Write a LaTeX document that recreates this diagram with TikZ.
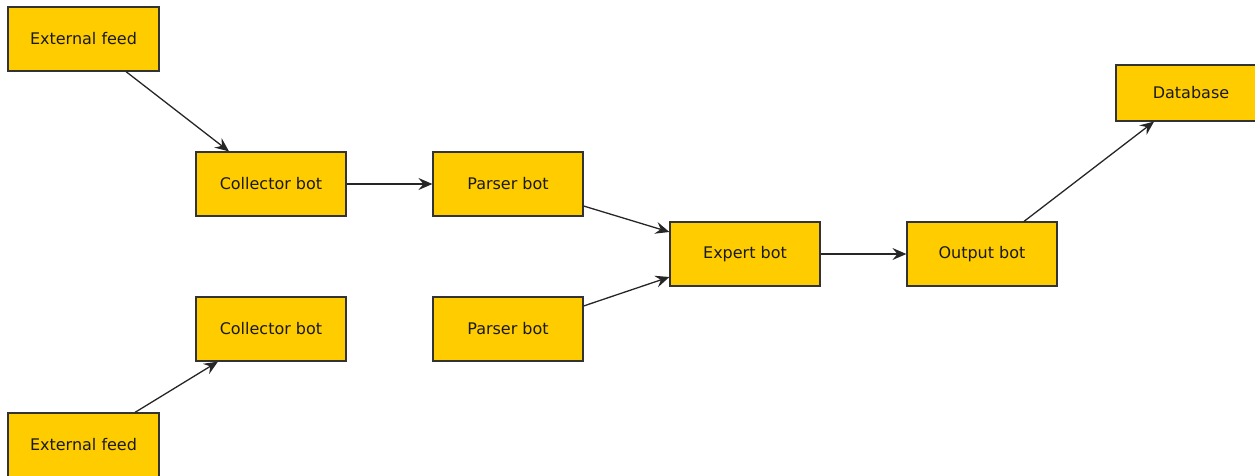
\documentclass[tikz,border=0pt]{standalone}
\usepackage{fontspec}
\setmainfont{DejaVu Sans}
\usetikzlibrary{arrows.meta}
\definecolor{boxfill}{HTML}{FFCC00}
\definecolor{boxline}{HTML}{333333}
\definecolor{txt}{HTML}{1A1A1A}
\begin{document}
\begin{tikzpicture}[x=1pt,y=-1pt,
  botbox/.style={draw=boxline,line width=1.2pt,fill=boxfill,text=txt,
    minimum width=150pt,minimum height=64pt,inner sep=0pt,
    font=\fontsize{16pt}{19pt}\selectfont},
  conn/.style={draw=black!85,line width=1.3pt,
    -{Stealth[length=14pt,width=12pt,inset=5pt]}}]
\useasboundingbox (0,0) rectangle (1255,476);
\node[botbox,minimum width=151pt] (ext1) at (83.5,39) {External feed};
\node[botbox] (col1) at (271,184) {Collector bot};
\node[botbox] (par1) at (508,184) {Parser bot};
\node[botbox] (exp) at (745,254) {Expert bot};
\node[botbox] (out) at (982,254) {Output bot};
\node[botbox,minimum height=56pt] (db) at (1191,93) {Database};
\node[botbox] (col2) at (271,329) {Collector bot};
\node[botbox] (par2) at (508,329) {Parser bot};
\node[botbox,minimum width=151pt] (ext2) at (83.5,445) {External feed};
\draw[conn] ([xshift=42.5pt]ext1.south) -- ([xshift=-42pt]col1.north);
\draw[conn] (col1.east) -- (par1.west);
\draw[conn] ([yshift=-22pt]par1.east) -- ([yshift=22pt]exp.west);
\draw[conn] ([yshift=23pt]par2.east) -- ([yshift=-23pt]exp.west);
\draw[conn] (exp.east) -- (out.west);
\draw[conn] ([xshift=42pt]out.north) -- ([xshift=-37pt]db.south);
\draw[conn] ([xshift=51.5pt]ext2.north) -- ([xshift=-53pt]col2.south);
\end{tikzpicture}
\end{document}
